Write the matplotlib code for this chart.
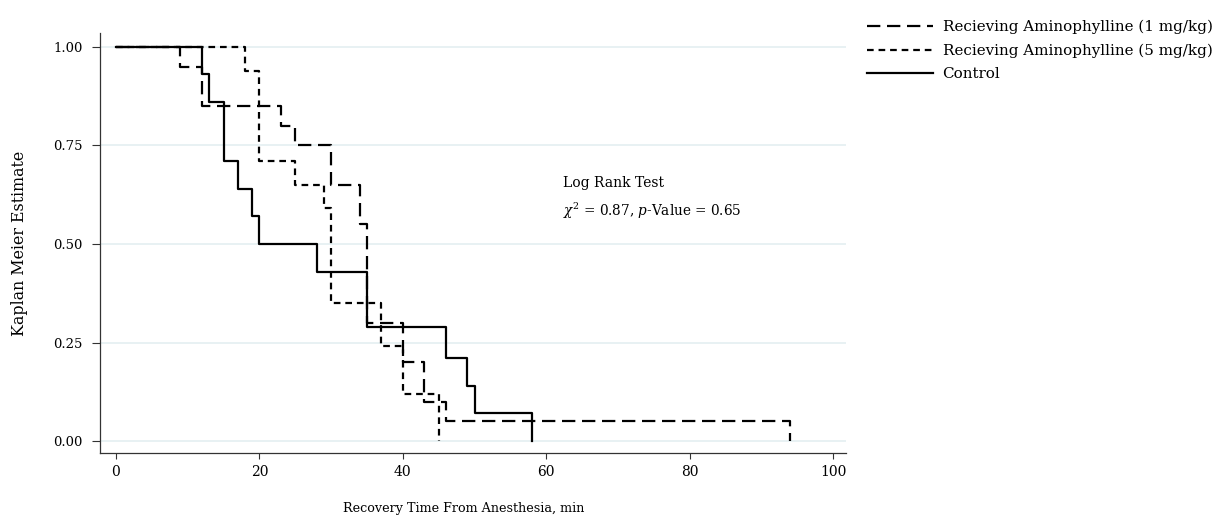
import numpy as np
import matplotlib
matplotlib.use("Agg")
import matplotlib.pyplot as plt

# Kaplan-Meier step data
t_1mg = [0, 9, 12, 23, 25, 30, 34, 35, 40, 43, 46, 94]
s_1mg = [1.00, 0.95, 0.85, 0.80, 0.75, 0.65, 0.55, 0.30, 0.20, 0.10, 0.05, 0.00]

t_5mg = [0, 18, 20, 25, 29, 30, 37, 40, 45]
s_5mg = [1.00, 0.94, 0.71, 0.65, 0.59, 0.35, 0.24, 0.12, 0.00]

t_ctrl = [0, 12, 13, 15, 17, 19, 20, 28, 35, 46, 49, 50, 58]
s_ctrl = [1.00, 0.93, 0.86, 0.71, 0.64, 0.57, 0.50, 0.43, 0.29, 0.21, 0.14, 0.07, 0.00]

labels = ['Recieving Aminophylline (1 mg/kg)',
          'Recieving Aminophylline (5 mg/kg)',
          'Control']
x_ticks = [0, 20, 40, 60, 80, 100]
y_ticks = [0.00, 0.25, 0.50, 0.75, 1.00]

plt.rcParams['font.family'] = 'DejaVu Serif'
plt.rcParams['mathtext.fontset'] = 'dejavuserif'

fig = plt.figure(figsize=(12.21, 5.17), dpi=100)
ax = fig.add_axes([0.082, 0.124, 0.611, 0.812])

# light grid lines
for y in y_ticks:
    ax.axhline(y, color='#e4eff1', lw=1.2, zorder=0)

l1, = ax.step(t_1mg, s_1mg, where='post', color='black', lw=1.6,
              dashes=(6, 3), label=labels[0])
l2, = ax.step(t_5mg, s_5mg, where='post', color='black', lw=1.6,
              dashes=(3, 2.2), label=labels[1])
l3, = ax.step(t_ctrl, s_ctrl, where='post', color='black', lw=1.6,
              label=labels[2])

ax.set_xlim(-2.2, 101.8)
ax.set_ylim(-0.03, 1.035)
ax.set_xticks(x_ticks)
ax.set_yticks(y_ticks)
ax.set_yticklabels([f'{v:.2f}' for v in y_ticks])
ax.tick_params(labelsize=9.5, width=0.8, color='#333333')
ax.tick_params(axis='y', length=6, pad=6.5)
ax.tick_params(axis='x', length=4, pad=4.5, labelsize=10)
for side in ['top', 'right']:
    ax.spines[side].set_visible(False)
for side in ['left', 'bottom']:
    ax.spines[side].set_color('#333333')
    ax.spines[side].set_linewidth(0.9)

ax.set_xlabel('Recovery Time From Anesthesia, min', fontsize=9.2, labelpad=16.5)
ax.xaxis.label.set_x(0.487)
ax.set_ylabel('Kaplan Meier Estimate', fontsize=11.4, labelpad=18)

ax.text(62.3, 0.655, 'Log Rank Test', fontsize=10, va='center')
ax.text(62.3, 0.585, r'$\chi^2$ = 0.87, $p$-Value = 0.65', fontsize=9.8, va='center')

fig.legend(handles=[l1, l2, l3], loc='upper left', bbox_to_anchor=(0.700, 0.985),
           frameon=False, fontsize=10.9, handlelength=4.4, handletextpad=0.6,
           labelspacing=0.62, borderaxespad=0.4)

fig.savefig('out.png', dpi=100)
